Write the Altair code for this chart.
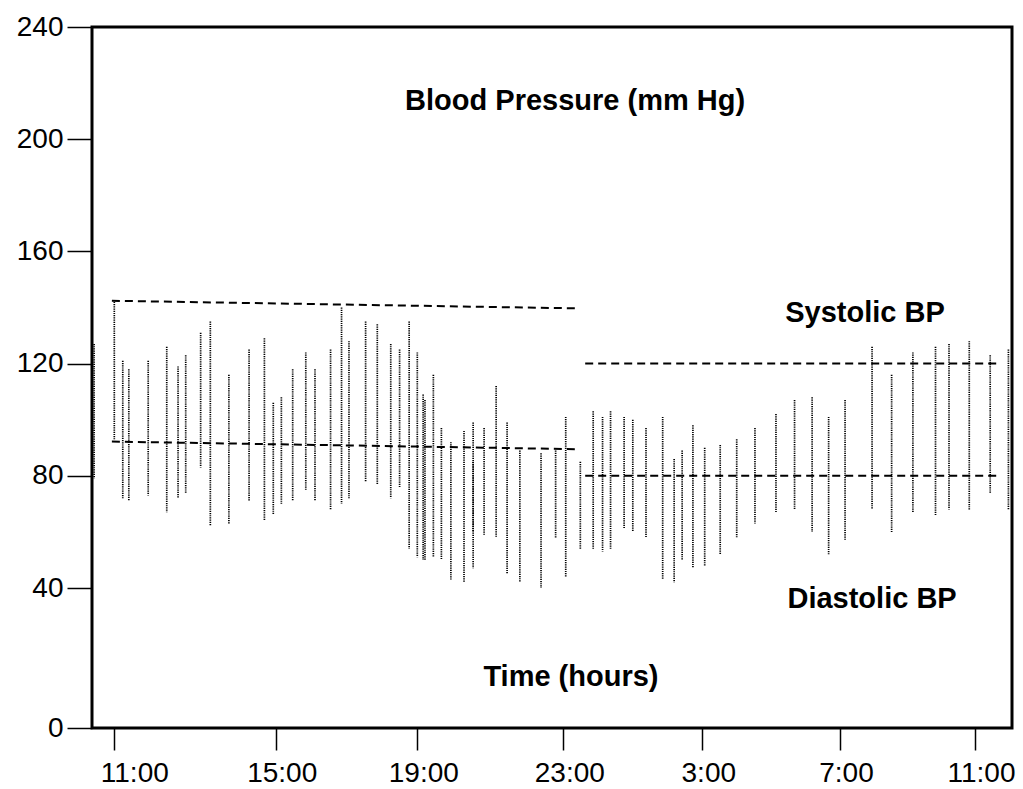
import altair as alt
import pandas as pd

# ---- data ----
bar_hours = [10.50, 11.00, 11.21, 11.36, 11.84, 12.30, 12.58, 12.77, 13.14, 13.38, 13.84,
             14.34, 14.72, 14.94, 15.16, 15.48, 15.85, 16.11, 16.55, 16.86, 17.07, 17.54,
             17.87, 18.25, 18.50, 18.77, 19.00, 19.16, 19.21, 19.44, 19.66, 19.92, 20.28,
             20.53, 20.53, 20.83, 21.16, 21.46, 21.81, 22.39, 22.79, 23.07, 23.49, 23.86,
             24.13, 24.36, 24.75, 25.00, 25.38, 25.86, 26.19, 26.42, 26.73, 27.07, 27.52,
             28.00, 28.53, 29.14, 29.68, 30.19, 30.67, 31.15, 31.95, 32.53, 33.16, 33.83,
             34.23, 34.83, 35.45, 35.99]
systolic = [127, 142, 121, 118, 121, 126, 119, 123, 131, 135, 116,
            125, 129, 106, 108, 118, 124, 118, 125, 140, 128, 135,
            134, 127, 125, 135, 124, 109, 107, 116, 97, 92, 96,
            99, 85, 97, 112, 99, 89, 88, 89, 101, 85, 103,
            101, 103, 101, 100, 97, 101, 86, 89, 98, 90, 91,
            93, 97, 102, 107, 108, 101, 107, 126, 116, 124, 126,
            127, 128, 123, 125]
diastolic = [79, 93, 72, 71, 73, 67, 72, 74, 83, 62, 63,
             71, 64, 66, 70, 71, 75, 71, 68, 70, 72, 78,
             77, 72, 76, 54, 51, 50, 50, 51, 50, 43, 42,
             47, 60, 59, 58, 45, 42, 40, 58, 44, 54, 54,
             53, 54, 61, 60, 58, 43, 42, 50, 47, 48, 52,
             58, 63, 67, 68, 60, 52, 57, 68, 60, 67, 66,
             68, 68, 74, 68]

mean_start_hours = [10.94, 10.94, 23.63, 23.63]
mean_end_hours = [23.34, 23.34, 35.74, 35.74]
mean_start_values = [142.4, 92.2, 120, 80]
mean_end_values = [139.7, 89.5, 120, 80]

annotation_texts = ["Blood Pressure (mm Hg)", "Time (hours)", "Systolic BP", "Diastolic BP"]
annotation_hours = [23.34, 23.22, 31.74, 31.95]
annotation_values = [213.6, 14.6, 138.1, 36.9]

x_tick_hours = [11, 15, 19, 23, 27, 31, 35]
y_tick_values = [0, 40, 80, 120, 160, 200, 240]

bars = pd.DataFrame({"hour": bar_hours, "sys": systolic, "dia": diastolic})
means = pd.DataFrame({"h1": mean_start_hours, "h2": mean_end_hours,
                      "v1": mean_start_values, "v2": mean_end_values})
notes = pd.DataFrame({"text": annotation_texts, "hour": annotation_hours,
                      "value": annotation_values})

FONT = "Liberation Sans"
W, H = 920, 701

# piecewise scales reproduce the uneven spacing of the original axes
x_scale = alt.Scale(domain=[10.447, 11, 15, 19, 23, 27, 31, 35, 36.096],
                    range=[0, 22.3, 183.7, 325.3, 471.3, 610.3, 748, 883, 920],
                    nice=False, zero=False)
y_scale = alt.Scale(domain=[0, 40, 240], range=[701, 561, 0], nice=False, zero=False)

x_axis = alt.Axis(values=x_tick_hours, labelExpr="(datum.value % 24) + ':00'",
                  title=None, grid=False, domain=False, tickSize=22, tickWidth=1.5,
                  tickColor="black", labelFont=FONT, labelFontSize=28,
                  labelColor="black", labelPadding=9, labelFlush=False,
                  labelOverlap=False,
                  labelOffset={"condition": {"test": "datum.value == 11", "value": 20},
                               "value": 6})
y_axis = alt.Axis(values=y_tick_values, title=None, grid=False, domain=False,
                  tickSize=25, tickWidth=1.5, tickColor="black", labelFont=FONT,
                  labelFontSize=28, labelColor="black", labelPadding=4,
                  labelFlush=False, labelOverlap=False)

bar_layer = alt.Chart(bars).mark_rule(
    color="black", strokeWidth=1.7, strokeDash=[1.2, 1]
).encode(
    x=alt.X("hour:Q", scale=x_scale, axis=x_axis),
    y=alt.Y("sys:Q", scale=y_scale, axis=y_axis),
    y2="dia:Q",
)

mean_layer = alt.Chart(means).mark_rule(
    color="black", strokeWidth=2, strokeDash=[8, 5]
).encode(
    x=alt.X("h1:Q", scale=x_scale, axis=x_axis),
    x2="h2:Q",
    y=alt.Y("v1:Q", scale=y_scale, axis=y_axis),
    y2="v2:Q",
)

note_layer = alt.Chart(notes).mark_text(
    font=FONT, fontSize=29, fontWeight="bold", color="black",
    align="center", baseline="middle"
).encode(
    x=alt.X("hour:Q", scale=x_scale, axis=x_axis),
    y=alt.Y("value:Q", scale=y_scale, axis=y_axis),
    text="text:N",
)

chart = alt.layer(bar_layer, mean_layer, note_layer).properties(
    width=W, height=H,
    autosize=alt.AutoSizeParams(type="none"),
    padding={"left": 92, "top": 27, "right": 11, "bottom": 61},
    background="white",
).configure_view(
    stroke="black", strokeWidth=3
)

chart.save("out.html", embed_options={"renderer": "svg", "actions": False})
